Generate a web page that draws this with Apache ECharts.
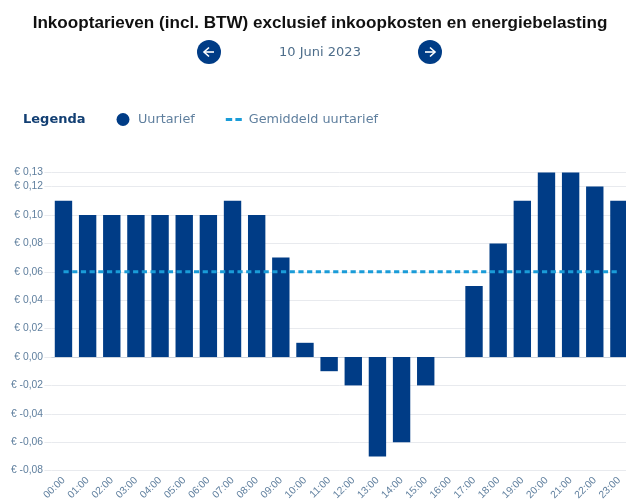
<!DOCTYPE html>
<html>
<head>
<meta charset="utf-8">
<title>Inkooptarieven</title>
<style>
  html, body { margin: 0; padding: 0; background: #fff; overflow: hidden; }
  #chart { width: 626px; height: 503px; }
</style>
<script src="https://cdn.jsdelivr.net/npm/echarts@6/dist/echarts.min.js"></script>
</head>
<body>
<div id="chart"></div>
<script>
'use strict';

var hours = ['00:00', '01:00', '02:00', '03:00', '04:00', '05:00', '06:00', '07:00',
  '08:00', '09:00', '10:00', '11:00', '12:00', '13:00', '14:00', '15:00',
  '16:00', '17:00', '18:00', '19:00', '20:00', '21:00', '22:00', '23:00'];
var uurtarief = [0.11, 0.10, 0.10, 0.10, 0.10, 0.10, 0.10, 0.11,
  0.10, 0.07, 0.01, -0.01, -0.02, -0.07, -0.06, -0.02,
  0, 0.05, 0.08, 0.11, 0.13, 0.13, 0.12, 0.11];
var gemiddeld = [0.06, 0.06, 0.06, 0.06, 0.06, 0.06, 0.06, 0.06,
  0.06, 0.06, 0.06, 0.06, 0.06, 0.06, 0.06, 0.06,
  0.06, 0.06, 0.06, 0.06, 0.06, 0.06, 0.06, 0.06];

var titleText = 'Inkooptarieven (incl. BTW) exclusief inkoopkosten en energiebelasting';
var dateText = '10 Juni 2023';

var navy = '#003c86';
var labelColor = '#5f7f9e';
var gridColor = '#e8eaee';
var dashColor = '#1a9cd8';

// ronde knop met pijltje, dir = -1 links, 1 rechts
function arrowButton(cx, dir) {
  return {
    type: 'group',
    x: cx,
    y: 52,
    children: [
      { type: 'circle', shape: { cx: 0, cy: 0, r: 12 }, style: { fill: navy } },
      { type: 'polyline', shape: { points: [[-5 * dir, 0], [5 * dir, 0]] },
        style: { stroke: '#fff', lineWidth: 1.6, fill: null } },
      { type: 'polyline', shape: { points: [[0, -4.5], [5 * dir, 0], [0, 4.5]] },
        style: { stroke: '#fff', lineWidth: 1.6, fill: null } }
    ]
  };
}

var chart = echarts.init(document.getElementById('chart'));
var option = {
  animation: false,
  title: {
    text: titleText,
    left: 315,
    textAlign: 'center',
    top: 10,
    textStyle: { fontFamily: 'Liberation Sans', fontSize: 17.1, fontWeight: 'bold', color: '#111' }
  },
  legend: {
    left: 111.5,
    top: 108,
    itemWidth: 16,
    itemHeight: 13,
    itemGap: 31,
    selectedMode: false,
    textStyle: { fontFamily: 'DejaVu Sans', fontSize: 12.8, color: labelColor, padding: [0, 0, 0, 2] },
    data: [
      { name: 'Uurtarief', icon: 'circle' },
      { name: 'Gemiddeld uurtarief', icon: 'path://M0 0h6v3H0zM9 0h6v3H9z', itemStyle: { color: dashColor } }
    ]
  },
  // het raster loopt rechts iets buiten beeld
  grid: { left: 51.4, width: 579.6, top: 172.4, bottom: 32.4, outerBoundsMode: 'none' },
  xAxis: [
    {
      type: 'category',
      data: hours,
      position: 'bottom',
      axisLine: { show: false, onZero: false },
      axisTick: { show: false },
      axisLabel: {
        interval: 0,
        rotate: 45,
        margin: 8,
        fontFamily: 'Liberation Sans',
        fontSize: 10.3,
        color: labelColor
      }
    },
    {
      // alleen de nullijn
      type: 'category',
      data: hours,
      axisLine: { show: true, onZero: true, lineStyle: { color: '#ccd3dc', width: 1 } },
      axisTick: { show: false },
      axisLabel: { show: false }
    }
  ],
  yAxis: {
    type: 'value',
    min: -0.08,
    max: 0.13,
    interval: 0.02,
    axisLine: { show: false },
    axisTick: { show: true, length: 7, lineStyle: { color: gridColor } },
    splitLine: { lineStyle: { color: gridColor, width: 1 } },
    axisLabel: {
      margin: 8.4,
      fontFamily: 'Liberation Sans',
      fontSize: 10.3,
      color: labelColor,
      formatter: function(value) {
        var text = value.toFixed(2).replace('.', ',');
        return '€ ' + text;
      }
    }
  },
  series: [
    {
      name: 'Uurtarief',
      type: 'bar',
      data: uurtarief,
      barWidth: '72%',
      itemStyle: { color: navy }
    },
    {
      name: 'Gemiddeld uurtarief',
      type: 'line',
      data: gemiddeld,
      symbol: 'none',
      z: 5,
      lineStyle: { color: dashColor, width: 3, type: [5.2, 3.5] },
      itemStyle: { color: dashColor }
    }
  ],
  graphic: [
    arrowButton(209, -1),
    arrowButton(430, 1),
    {
      type: 'text',
      x: 320,
      y: 52.5,
      style: {
        text: dateText,
        fontFamily: 'DejaVu Sans',
        fontSize: 13,
        fill: '#4d6d8a',
        align: 'center',
        verticalAlign: 'middle'
      }
    },
    {
      type: 'text',
      x: 23,
      y: 120,
      style: {
        text: 'Legenda',
        fontFamily: 'DejaVu Sans',
        fontSize: 13,
        fontWeight: 'bold',
        fill: '#123f73',
        verticalAlign: 'middle'
      }
    }
  ]
};

chart.setOption(option);
window.onresize = chart.resize;
</script>
</body>
</html>
